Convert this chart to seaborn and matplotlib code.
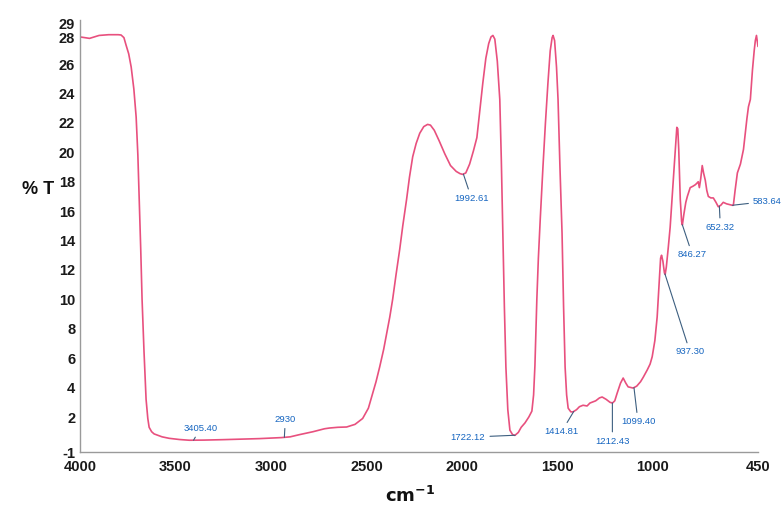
import numpy as np
import pandas as pd
import matplotlib
matplotlib.use("Agg")
import matplotlib.pyplot as plt
import seaborn as sns

# ---- data (wavenumber cm-1, %T in plot units) ----
wavenumber = [4000, 3950, 3900, 3850, 3800, 3785, 3770, 3759, 3745, 3732, 3718, 3706, 3697, 3690,
              3682, 3675, 3665, 3654, 3645, 3638, 3625, 3612, 3570, 3533, 3480, 3428, 3350, 3250,
              3150, 3061, 2945, 2900, 2851, 2780, 2720, 2694, 2650, 2604, 2560, 2520, 2490, 2468,
              2450, 2431, 2410, 2394, 2378, 2363, 2345, 2326, 2310, 2290, 2275, 2258, 2240, 2221,
              2200, 2180, 2165, 2145, 2120, 2090, 2060, 2030, 2010, 1996, 1980, 1960, 1940, 1922,
              1905, 1891, 1875, 1860, 1848, 1838, 1828, 1815, 1802, 1794, 1786, 1778, 1770, 1760,
              1749, 1735, 1723, 1705, 1690, 1670, 1650, 1634, 1625, 1618, 1608, 1600, 1590, 1576,
              1563, 1550, 1538, 1528, 1523, 1515, 1505, 1497, 1487, 1476, 1468, 1460, 1452, 1444,
              1430, 1418, 1400, 1385, 1366, 1345, 1330, 1300, 1280, 1266, 1245, 1225, 1212, 1200,
              1188, 1170, 1156, 1142, 1130, 1104, 1085, 1065, 1051, 1030, 1015, 1004, 990, 978,
              968, 960, 955, 948, 940, 936, 930, 920, 910, 900, 889, 880, 875, 870, 865, 857, 850,
              846, 838, 828, 820, 805, 790, 778, 770, 763, 757, 750, 742, 735, 726, 718, 710, 697,
              684, 670, 658, 645, 632, 615, 600, 585, 579, 570, 558, 542, 526, 516, 508, 500, 490,
              479, 470, 464, 458, 454, 450]
transmittance = [27.85, 27.75, 27.95, 28.0, 28.0, 27.98, 27.8, 27.3, 26.7, 25.8, 24.3, 22.4, 19.8, 16.8,
                 13.4, 10.0, 6.5, 3.2, 1.9, 1.3, 1.0, 0.85, 0.65, 0.55, 0.47, 0.42, 0.43, 0.46,
                 0.5, 0.53, 0.6, 0.65, 0.8, 1.0, 1.2, 1.25, 1.3, 1.32, 1.5, 1.9, 2.6, 3.6,
                 4.4, 5.4, 6.6, 7.7, 8.8, 10.0, 11.7, 13.4, 15.0, 16.8, 18.3, 19.7, 20.6, 21.3,
                 21.75, 21.9, 21.85, 21.5, 20.8, 19.9, 19.1, 18.7, 18.55, 18.5, 18.6, 19.2, 20.1, 21.0,
                 23.0, 24.7, 26.4, 27.4, 27.85, 27.95, 27.7, 26.2, 23.6, 19.5, 14.5, 9.5, 5.4, 2.5,
                 1.1, 0.8, 0.75, 0.95, 1.3, 1.6, 2.0, 2.4, 3.5, 5.5, 10.0, 12.8, 15.5, 19.0,
                 22.0, 24.7, 26.9, 27.8, 27.95, 27.6, 25.8, 23.6, 19.0, 14.5, 9.5, 5.4, 3.5, 2.6,
                 2.35, 2.35, 2.5, 2.7, 2.8, 2.75, 2.95, 3.1, 3.3, 3.36, 3.2, 3.0, 2.95, 3.1,
                 3.6, 4.3, 4.65, 4.3, 4.05, 3.97, 4.1, 4.4, 4.7, 5.2, 5.6, 6.1, 7.2, 8.8,
                 11.0, 12.8, 13.0, 12.6, 11.8, 11.7, 12.2, 13.5, 14.9, 16.8, 19.0, 20.8, 21.7, 21.6, 20.2, 16.8, 15.3,
                 15.06, 15.8, 16.6, 17.0, 17.6, 17.7, 17.8, 17.9, 18.0, 17.6, 18.2, 19.1, 18.6, 18.1, 17.4, 17.0, 16.9,
                 16.9, 16.6, 16.3, 16.4, 16.6, 16.5, 16.45, 16.4, 16.4, 17.4, 18.6, 19.2, 20.2, 21.4, 22.3, 23.1, 23.6,
                 25.6, 26.9, 27.6, 27.95, 27.6, 27.2]

# peak labels
peak_labels = ["3405.40", "2930", "1992.61", "1722.12", "1414.81", "1212.43",
               "1099.40", "937.30", "846.27", "652.32", "583.64"]
peak_positions = [3405.40, 2930, 1992.61, 1722.12, 1414.81, 1212.43,
                  1099.40, 937.30, 846.27, 652.32, 583.64]
# label offsets (pixels) relative to the peak point
peak_offsets = [(7, 12), (1, 18), (8, -24), (-47, -2), (-12, -20), (0, -38),
                (4, -34), (25, -78), (10, -30), (1, -21), (35, 4)]

# axis ticks
x_ticks = [4000, 3500, 3000, 2500, 2000, 1500, 1000, 450]
y_tick_pos = [-0.38, 2, 4, 6, 8, 10, 12, 14, 16, 18, 20, 22, 24, 26, 27.8, 28.75]
y_tick_labels = ["-1", "2", "4", "6", "8", "10", "12", "14", "16", "18", "20",
                 "22", "24", "26", "28", "29"]

df = pd.DataFrame({"wavenumber": wavenumber, "T": transmittance})

sns.set_theme(style="white")
plt.rcParams["font.family"] = ["Liberation Sans Narrow", "Liberation Sans", "DejaVu Sans"]

fig = plt.figure(figsize=(7.82, 5.12), dpi=100)
ax = fig.add_axes([80 / 782, 1 - 452 / 512, (758 - 80) / 782, (452 - 20) / 512])

line_color = "#e8507e"
sns.lineplot(data=df, x="wavenumber", y="T", sort=False, estimator=None,
             color=line_color, linewidth=1.2, ax=ax)

ax.set_xlim(4000, 450)
ax.set_ylim(-0.38, 29)
ax.set_xticks(x_ticks)
ax.set_xticklabels([str(t) for t in x_ticks])
ax.set_yticks(y_tick_pos)
ax.set_yticklabels(y_tick_labels)
ax.set_xlabel("")
ax.set_ylabel("")

for s in ["top", "right"]:
    ax.spines[s].set_visible(False)
for s in ["left", "bottom"]:
    ax.spines[s].set_color("#9a9a9a")
    ax.spines[s].set_linewidth(1.0)

ax.tick_params(axis="both", which="major", direction="inout", length=5, width=0.8,
               color="#9a9a9a", labelsize=10.5, labelcolor="#1a1a1a")
ax.tick_params(axis="x", pad=3)
ax.tick_params(axis="y", pad=1)
for lab in ax.get_xticklabels() + ax.get_yticklabels():
    lab.set_fontweight("bold")

# peak annotations
wn_arr = np.array(wavenumber[::-1], dtype=float)
t_arr = np.array(transmittance[::-1], dtype=float)
for lab, pos, (dx, dy) in zip(peak_labels, peak_positions, peak_offsets):
    yv = float(np.interp(pos, wn_arr, t_arr))
    ax.annotate(lab, xy=(pos, yv), xytext=(dx, dy), textcoords="offset pixels",
                ha="center", va="center", fontsize=6.8, color="#1565c0",
                annotation_clip=False,
                arrowprops=dict(arrowstyle="-", color="#3d5f80", lw=0.8,
                                shrinkA=1, shrinkB=0))

fig.text(38 / 782, 1 - 190 / 512, "% T", ha="center", va="center",
         fontsize=13, fontweight="bold", color="#111111")
fig.text(410 / 782, 1 - 496 / 512, r"$\mathbf{cm^{-1}}$", ha="center", va="center",
         fontsize=13, color="#111111")

fig.savefig("out.png", dpi=100, facecolor="white")
